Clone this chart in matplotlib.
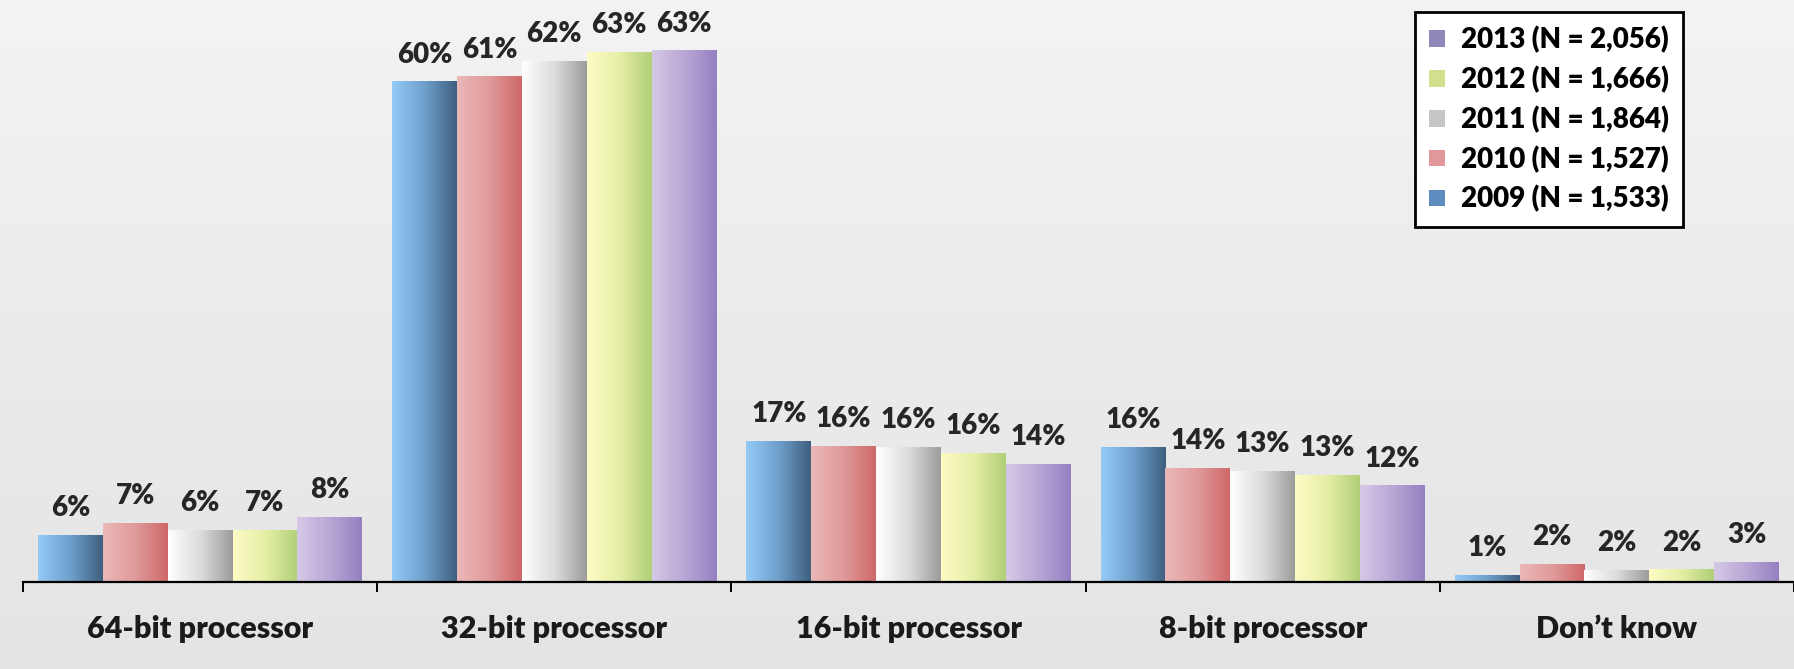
import numpy as np
import matplotlib.pyplot as plt
from matplotlib.colors import LinearSegmentedColormap
from matplotlib.patches import Patch

categories = ["64-bit processor", "32-bit processor", "16-bit processor",
              "8-bit processor", "Don\u2019t know"]
series_names = ["2009 (N = 1,533)", "2010 (N = 1,527)", "2011 (N = 1,864)",
                "2012 (N = 1,666)", "2013 (N = 2,056)"]
# bar heights (%)
h_2009 = [5.6, 59.6, 16.8, 16.1, 0.8]
h_2010 = [7.0, 60.2, 16.2, 13.6, 2.1]
h_2011 = [6.2, 62.0, 16.1, 13.2, 1.4]
h_2012 = [6.2, 63.1, 15.4, 12.7, 1.5]
h_2013 = [7.7, 63.3, 14.1, 11.5, 2.4]
# printed labels
lab_2009 = [6, 60, 17, 16, 1]
lab_2010 = [7, 61, 16, 14, 2]
lab_2011 = [6, 62, 16, 13, 2]
lab_2012 = [7, 63, 16, 13, 2]
lab_2013 = [8, 63, 14, 12, 3]
heights = [h_2009, h_2010, h_2011, h_2012, h_2013]
labels = [lab_2009, lab_2010, lab_2011, lab_2012, lab_2013]

# left -> right shading of each series
grads = [
    ["#94cbf7", "#6f9fcc", "#3e5f7e"],
    ["#ebb8b8", "#e09a9a", "#cf6868"],
    ["#ffffff", "#dcdcdc", "#9c9c9c"],
    ["#fcfcc4", "#e6eea6", "#b0cf78"],
    ["#d6c9e6", "#b9a7d6", "#9580c0"],
]
legend_cols = ["#8f87b8", "#d4df8e", "#c6c6c6", "#e0989a", "#5f8cbf"]

plt.rcParams['font.family'] = ['Lato', 'DejaVu Sans']

fig = plt.figure(figsize=(17.94, 6.69), dpi=100)

# background gradient
bg = fig.add_axes([0, 0, 1, 1], zorder=-1)
bg.imshow(np.linspace(0, 1, 256).reshape(-1, 1),
          cmap=LinearSegmentedColormap.from_list("bg", ["#f3f3f3", "#e4e4e4"]),
          aspect='auto', extent=[0, 1, 0, 1])
bg.axis('off')

ax = fig.add_axes([0, 87 / 669, 1, 582 / 669])
ax.set_facecolor('none')

x = np.arange(len(categories))
w = 0.183
grad = np.linspace(0, 1, 256).reshape(1, -1)

for i, (vals, labs, g) in enumerate(zip(heights, labels, grads)):
    cmap = LinearSegmentedColormap.from_list("s%d" % i, g)
    bars = ax.bar(x + (i - 2) * w, vals, w, color='none', edgecolor='none')
    for b in bars:
        bx, by = b.get_x(), b.get_y()
        im = ax.imshow(grad, cmap=cmap, aspect='auto',
                       extent=[bx, bx + b.get_width(), by, by + b.get_height()],
                       zorder=2)
        im.set_clip_path(b)
    ax.bar_label(bars, labels=["%d%%" % v for v in labs], padding=10,
                 fontsize=20, fontweight='heavy', color='#262626')

ax.set_xlim(-0.565, 4.49)
ax.set_ylim(0, 69.3)

for s in ['top', 'right', 'left']:
    ax.spines[s].set_visible(False)
ax.spines['bottom'].set_bounds(-0.5, 4.5)
ax.spines['bottom'].set_linewidth(1.6)
ax.set_yticks([])

ax.set_xticks(x)
ax.set_xticklabels(categories, fontsize=22, fontweight='heavy', color='#1a1a1a')
ax.tick_params(axis='x', which='major', length=0, pad=24)
ax.set_xticks(np.arange(-0.5, 5, 1), minor=True)
ax.tick_params(axis='x', which='minor', length=7, width=1.4, direction='out')

handles = [Patch(facecolor=c, edgecolor='none') for c in legend_cols]
leg = fig.legend(handles, series_names[::-1], loc='upper left',
                 bbox_to_anchor=(0.789, 0.982), borderaxespad=0,
                 prop={'weight': 'heavy', 'size': 20},
                 handlelength=0.55, handleheight=0.55, handletextpad=0.6,
                 labelspacing=0.45, fancybox=False, framealpha=1,
                 edgecolor='black', borderpad=0.5)
leg.get_frame().set_linewidth(2)

fig.savefig("out.png", dpi=100)
